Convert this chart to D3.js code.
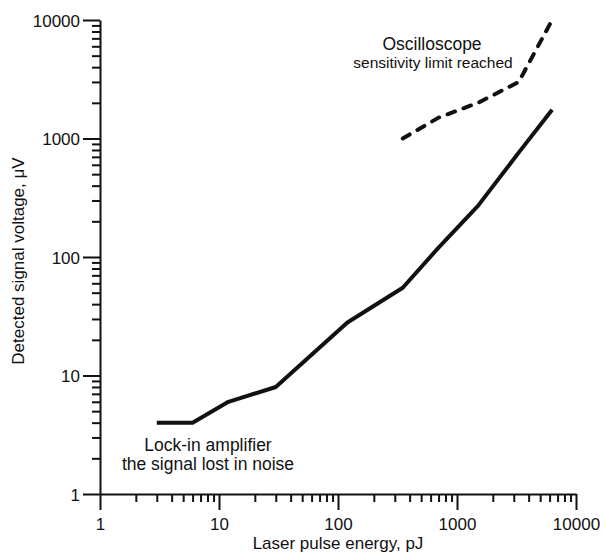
<!DOCTYPE html>
<html>
<head>
<meta charset="utf-8">
<script src="https://cdn.jsdelivr.net/npm/d3@7"></script>
<style>
  html, body { margin: 0; padding: 0; background: #fff; }
  svg { display: block; }
  text { font-family: "Liberation Sans", Arial, Helvetica, sans-serif; fill: #111; }
</style>
</head>
<body>
<svg id="chart" width="606" height="552"></svg>
<script>
// Lock-in amplifier readings: pulse energy (pJ) vs detected voltage (µV)
const lockInEnergy  = [3, 6, 12, 30, 120, 350, 700, 1500, 3300, 6300];
const lockInVoltage = [4, 4, 6, 8, 28, 55, 120, 270, 760, 1750];

// Oscilloscope readings
const scopeEnergy  = [350, 700, 1500, 3300, 6300];
const scopeVoltage = [1000, 1500, 2000, 3000, 10000];

// Axis labels
const xMajorTicks = [1, 10, 100, 1000, 10000];
const yMajorTicks = [1, 10, 100, 1000, 10000];
const xTitle = "Laser pulse energy, pJ";
const yTitle = "Detected signal voltage, μV";

const svg = d3.select("#chart");
const plot = { left: 100, right: 576, top: 20, bottom: 494 };

const x = d3.scaleLog().domain([1, 10000]).range([plot.left, plot.right]);
const y = d3.scaleLog().domain([1, 10000]).range([plot.bottom, plot.top]);

// minor ticks: 2..9 within each decade
function minorTicks(majors) {
  const out = [];
  for (let i = 0; i < majors.length - 1; i++) {
    for (let k = 2; k <= 9; k++) out.push(majors[i] * k);
  }
  return out;
}
const fmt = d3.format("d");
const col = "#111";

// X axis
const gx = svg.append("g").attr("transform", `translate(0,${plot.bottom})`);
gx.append("g")
  .call(d3.axisBottom(x).tickValues(minorTicks(xMajorTicks)).tickSize(8).tickSizeOuter(0).tickFormat(""))
  .call(g => g.select(".domain").remove());
gx.append("g")
  .call(d3.axisBottom(x).tickValues(xMajorTicks).tickSize(16).tickSizeOuter(0).tickFormat(fmt))
  .call(g => g.selectAll("text").attr("y", 24).attr("dy", "0.71em").style("font-size", "17px"));
gx.selectAll("line").attr("stroke", col).attr("stroke-width", 2);
gx.selectAll(".domain").attr("stroke", col).attr("stroke-width", 2);

// Y axis
const gy = svg.append("g").attr("transform", `translate(${plot.left},0)`);
gy.append("g")
  .call(d3.axisLeft(y).tickValues(minorTicks(yMajorTicks)).tickSize(8).tickSizeOuter(0).tickFormat(""))
  .call(g => g.select(".domain").remove());
gy.append("g")
  .call(d3.axisLeft(y).tickValues(yMajorTicks).tickSize(17).tickSizeOuter(0).tickFormat(fmt))
  .call(g => g.selectAll("text").attr("x", -20).attr("dy", "0.36em").style("font-size", "17px"));
gy.selectAll("line").attr("stroke", col).attr("stroke-width", 2);
gy.selectAll(".domain").attr("stroke", col).attr("stroke-width", 2);
svg.selectAll(".tick text").attr("fill", col).attr("font-family", null);

// Axis titles
svg.append("text")
  .attr("x", (plot.left + plot.right) / 2).attr("y", 549)
  .attr("text-anchor", "middle").style("font-size", "17px")
  .text(xTitle);
svg.append("text")
  .attr("transform", `translate(24,${(plot.top + plot.bottom) / 2 + 4}) rotate(-90)`)
  .attr("text-anchor", "middle").style("font-size", "17px")
  .text(yTitle);

// Series lines
const line = d3.line().x(d => x(d[0])).y(d => y(d[1]));
const lockIn = d3.zip(lockInEnergy, lockInVoltage);
const scope = d3.zip(scopeEnergy, scopeVoltage);

svg.append("path").datum(lockIn)
  .attr("d", line).attr("fill", "none")
  .attr("stroke", col).attr("stroke-width", 4)
  .attr("stroke-linejoin", "round");

svg.append("path").datum(scope)
  .attr("d", line).attr("fill", "none")
  .attr("stroke", col).attr("stroke-width", 4)
  .attr("stroke-dasharray", "8,9").attr("stroke-linecap", "round")
  .attr("stroke-linejoin", "round");

// Annotations
const notes = [
  { x: 208, y: 451, size: 17.5, text: "Lock-in amplifier" },
  { x: 208, y: 470, size: 17.5, text: "the signal lost in noise" },
  { x: 432, y: 50, size: 17.5, text: "Oscilloscope" },
  { x: 433, y: 68, size: 15.5, text: "sensitivity limit reached" }
];
svg.selectAll("text.note").data(notes).enter().append("text")
  .attr("class", "note")
  .attr("x", d => d.x).attr("y", d => d.y)
  .attr("text-anchor", "middle")
  .style("font-size", d => d.size + "px")
  .text(d => d.text);
</script>
</body>
</html>
